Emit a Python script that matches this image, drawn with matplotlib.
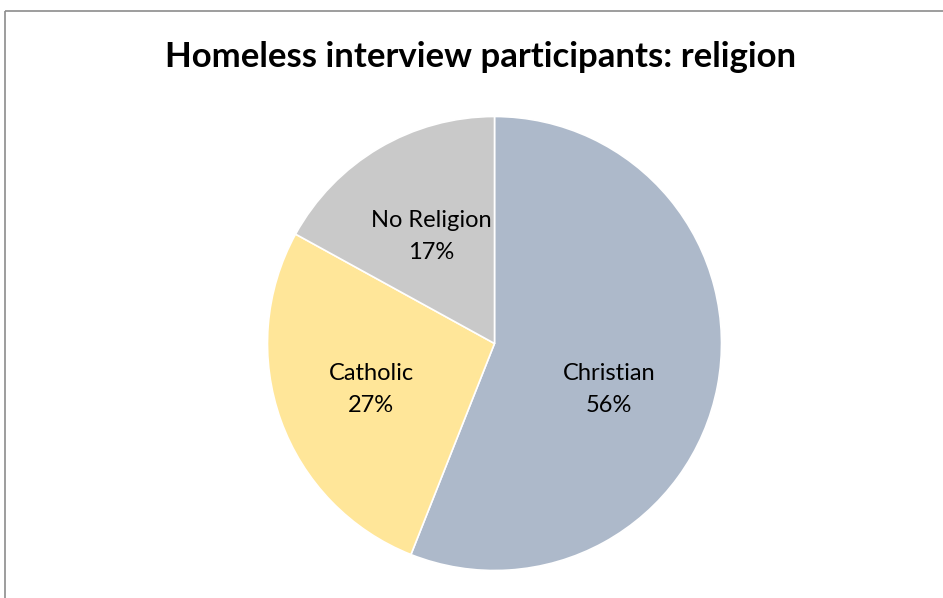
import matplotlib
matplotlib.use("Agg")
import matplotlib.pyplot as plt
import numpy as np

# Religion of homeless interview participants (percent)
categories = ["Christian", "Catholic", "No Religion"]
shares = [56, 27, 17]
colors = ["#ADB9CA", "#FFE699", "#C9C9C9"]
title = "Homeless interview participants: religion"

W, H = 943, 598
fig = plt.figure(figsize=(W / 100, H / 100), dpi=100)
ax = fig.add_axes([0, 0, 1, 1])

cx, cy, r = 494.5, H - 343.5, 227

labels = [f"{c}\n{v}%" for c, v in zip(categories, shares)]
wedges, texts = ax.pie(
    shares,
    labels=labels,
    colors=colors,
    startangle=90,
    counterclock=False,
    center=(cx, cy),
    radius=r,
    labeldistance=0.55,
    wedgeprops=dict(edgecolor="white", linewidth=1.2),
    textprops=dict(fontsize=17, family="Lato", color="#000000",
                   ha="center", va="center", linespacing=1.65),
)
for t in texts:
    t.set_horizontalalignment("center")
    t.set_verticalalignment("center")
    t.set_multialignment("center")

# the largest slice's label sits a little lower, best-fit style
x0, y0 = texts[0].get_position()
texts[0].set_position((x0 - 8, y0 - 23))
x1, y1 = texts[1].get_position()
texts[1].set_position((x1 - 6, y1 - 4))

ax.set_xlim(0, W)
ax.set_ylim(0, H)
ax.set_aspect("equal")
ax.axis("off")

# chart frame: visible along top and left edges
ax.plot([4.5, W], [H - 11, H - 11], color="#8C8C8C", lw=1.2, solid_capstyle="butt")
ax.plot([4.5, 4.5], [0, H - 11], color="#8C8C8C", lw=1.2, solid_capstyle="butt")

fig.text(481 / W, 1 - 67 / H, title, ha="center", va="baseline",
         fontsize=25, fontweight="bold", family="Lato", color="#000000")

fig.savefig("out.png", dpi=100)
